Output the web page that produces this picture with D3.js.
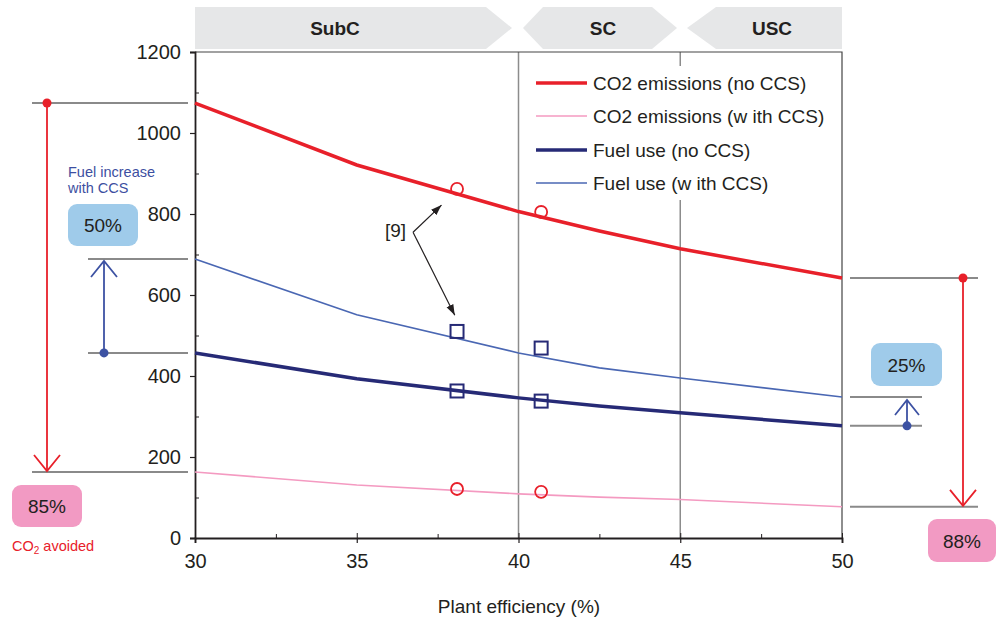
<!DOCTYPE html>
<html>
<head>
<meta charset="utf-8">
<script src="https://cdn.jsdelivr.net/npm/d3@7"></script>
<style>
  body { margin: 0; background: #fff; }
  svg text { font-family: "Liberation Sans", Arial, sans-serif; fill: #231f20; }
</style>
</head>
<body>
<div id="chart"></div>
<script>
// plant efficiency (%) where the curves have their points
const efficiency = [30, 35, 40, 42.5, 45, 50];
const co2NoCcs = [1074, 921, 806, 758, 714, 642];
const co2Ccs = [163, 131, 109, 101, 95, 77];
const fuelNoCcs = [457, 393, 346, 326, 309, 277];
const fuelCcs = [689, 551, 457, 420, 395, 348];

// reference plants [9]
const refEff = [38.1, 40.7];
const refCo2NoCcs = [862, 805];
const refCo2Ccs = [121, 114];
const refFuelCcs = [510, 469];
const refFuelNoCcs = [363, 338];

const xTicks = [30, 35, 40, 45, 50];
const xMinor = [32.5, 37.5, 42.5, 47.5];
const yTicks = [0, 200, 400, 600, 800, 1000, 1200];
const yMinor = [100, 300, 500, 700, 900, 1100];
const gridEff = [40, 45];

const bands = ['SubC', 'SC', 'USC'];
const legendLabels = ['CO2 emissions (no CCS)', 'CO2 emissions (w ith CCS)', 'Fuel use (no CCS)', 'Fuel use (w ith CCS)'];

const width = 996, height = 620;
const margin = { top: 52, right: 154, bottom: 82, left: 195 };

const svg = d3.select('#chart').append('svg')
  .attr('width', width)
  .attr('height', height);

const x = d3.scaleLinear().domain([30, 50]).range([margin.left, width - margin.right]);
const y = d3.scaleLinear().domain([0, 1200]).range([height - margin.bottom, margin.top]);

const red = '#e8202a', pink = '#f49ac1', navy = '#262a76', blue = '#4a67b3', grey = '#8a8a8a';

// header bands
const bandShapes = [
  [[195, 7], [486, 7], [512, 28], [486, 49], [195, 49]],
  [[523, 28], [543, 7], [652, 7], [677, 28], [652, 49], [543, 49]],
  [[687, 28], [716, 7], [842, 7], [842, 49], [716, 49]]
];
svg.selectAll('.band').data(bandShapes).enter().append('polygon')
  .attr('class', 'band')
  .attr('points', d => d.map(p => p.join(',')).join(' '))
  .attr('fill', '#e6e7e8');
svg.selectAll('.band-label').data(bands).enter().append('text')
  .attr('class', 'band-label')
  .attr('x', (d, i) => [335, 603, 772][i])
  .attr('y', 35)
  .attr('text-anchor', 'middle')
  .style('font-size', '19px')
  .style('font-weight', 'bold')
  .text(d => d);

// vertical grid lines
svg.selectAll('.grid').data(gridEff).enter().append('line')
  .attr('class', 'grid')
  .attr('x1', d => x(d)).attr('x2', d => x(d))
  .attr('y1', y(1200)).attr('y2', y(0))
  .attr('stroke', '#8c8c8c')
  .attr('stroke-width', 1.5);

// frame top / right
svg.append('path')
  .attr('d', `M${x(30)},${y(1200)}H${x(50)}V${y(0)}`)
  .attr('fill', 'none')
  .attr('stroke', '#444')
  .attr('stroke-width', 1.2);

// legend background
svg.append('rect')
  .attr('x', 528).attr('y', 66)
  .attr('width', 313).attr('height', 134)
  .attr('fill', '#fff');

// axes
const yAxis = svg.append('g')
  .attr('transform', `translate(${margin.left},0)`)
  .call(d3.axisLeft(y).tickValues(yTicks).tickSize(5).tickPadding(9).tickFormat(d3.format('d')));
const yMinorAxis = svg.append('g')
  .attr('transform', `translate(${margin.left},0)`)
  .call(d3.axisRight(y).tickValues(yMinor).tickSize(4).tickFormat(''));
const xAxis = svg.append('g')
  .attr('transform', `translate(0,${y(0)})`)
  .call(d3.axisBottom(x).tickValues(xTicks).tickSize(5).tickPadding(11));
const xMinorAxis = svg.append('g')
  .attr('transform', `translate(0,${y(0)})`)
  .call(d3.axisTop(x).tickValues(xMinor).tickSize(4).tickFormat(''));
const xUpAxis = svg.append('g')
  .attr('transform', `translate(0,${y(0)})`)
  .call(d3.axisTop(x).tickValues(xTicks).tickSize(5).tickFormat(''));

[yAxis, xAxis].forEach(g => {
  g.select('.domain').attr('stroke', '#231f20').attr('stroke-width', 1.8);
  g.selectAll('.tick line').attr('stroke', '#231f20').attr('stroke-width', 1.2);
  g.selectAll('.tick text').style('font-size', '20px').attr('fill', '#231f20')
    .style('font-family', '"Liberation Sans", Arial, sans-serif');
});
[yMinorAxis, xMinorAxis, xUpAxis].forEach(g => {
  g.select('.domain').remove();
  g.selectAll('.tick line').attr('stroke', '#231f20').attr('stroke-width', 1);
});

svg.append('text')
  .attr('x', 519).attr('y', 613)
  .attr('text-anchor', 'middle')
  .style('font-size', '19px')
  .text('Plant efficiency (%)');

// series lines
const series = [
  { vals: co2NoCcs, color: red, w: 3.5 },
  { vals: co2Ccs, color: pink, w: 1.6 },
  { vals: fuelNoCcs, color: navy, w: 3.5 },
  { vals: fuelCcs, color: blue, w: 1.6 }
];
const line = d3.line().x((d, i) => x(efficiency[i])).y(d => y(d));
svg.selectAll('.series').data(series).enter().append('path')
  .attr('class', 'series')
  .attr('d', d => line(d.vals))
  .attr('fill', 'none')
  .attr('stroke', d => d.color)
  .attr('stroke-width', d => d.w);

// reference markers
[refCo2NoCcs, refCo2Ccs].forEach(vals => {
  svg.selectAll(null).data(vals).enter().append('circle')
    .attr('cx', (d, i) => x(refEff[i]))
    .attr('cy', d => y(d))
    .attr('r', 6)
    .attr('fill', 'none')
    .attr('stroke', red)
    .attr('stroke-width', 1.8);
});
[refFuelCcs, refFuelNoCcs].forEach(vals => {
  svg.selectAll(null).data(vals).enter().append('rect')
    .attr('x', (d, i) => x(refEff[i]) - 6.5)
    .attr('y', d => y(d) - 6.5)
    .attr('width', 13).attr('height', 13)
    .attr('fill', 'none')
    .attr('stroke', navy)
    .attr('stroke-width', 2);
});

// [9] annotation
svg.append('defs').append('marker')
  .attr('id', 'head')
  .attr('viewBox', '0 0 10 10')
  .attr('refX', 10).attr('refY', 5)
  .attr('markerWidth', 9).attr('markerHeight', 9)
  .attr('orient', 'auto')
  .append('path').attr('d', 'M0,1.5L10,5L0,8.5Z').attr('fill', '#231f20');
const noteFrom = [36.74, 755];
const noteTo = [[37.62, 822], [38.03, 550]];
noteTo.forEach(t => {
  svg.append('line')
    .attr('x1', x(noteFrom[0])).attr('y1', y(noteFrom[1]))
    .attr('x2', x(t[0])).attr('y2', y(t[1]))
    .attr('stroke', '#231f20').attr('stroke-width', 1.2)
    .attr('marker-end', 'url(#head)');
});
svg.append('text')
  .attr('x', 385).attr('y', 237)
  .style('font-size', '19px')
  .text('[9]');

// legend
const legend = svg.selectAll('.legend').data(series).enter().append('g')
  .attr('class', 'legend')
  .attr('transform', (d, i) => `translate(536,${[83, 116, 150, 183][i]})`);
legend.append('line')
  .attr('x1', 0).attr('x2', 51)
  .attr('stroke', d => d.color)
  .attr('stroke-width', d => d.w);
legend.append('text')
  .attr('x', 57).attr('y', 7)
  .style('font-size', '19px')
  .text((d, i) => legendLabels[i]);

// side annotations
function hline(x1, x2, yy) {
  svg.append('line').attr('x1', x1).attr('x2', x2).attr('y1', yy).attr('y2', yy)
    .attr('stroke', grey).attr('stroke-width', 2);
}
function arrow(ax, yFrom, yTo, color, armW, armH) {
  svg.append('line').attr('x1', ax).attr('x2', ax).attr('y1', yFrom).attr('y2', yTo)
    .attr('stroke', color).attr('stroke-width', 1.8);
  const dir = yTo > yFrom ? -1 : 1;
  svg.append('path')
    .attr('d', `M${ax - armW},${yTo + dir * armH}L${ax},${yTo}L${ax + armW},${yTo + dir * armH}`)
    .attr('fill', 'none').attr('stroke', color).attr('stroke-width', 1.8);
  svg.append('circle').attr('cx', ax).attr('cy', yFrom).attr('r', 4.5).attr('fill', color);
}
function badge(bx, by, bw, bh, fill, label) {
  svg.append('rect').attr('x', bx).attr('y', by).attr('width', bw).attr('height', bh)
    .attr('rx', 9).attr('fill', fill);
  svg.append('text').attr('x', bx + bw / 2).attr('y', by + bh / 2 + 7)
    .attr('text-anchor', 'middle').style('font-size', '19px').text(label);
}

// left: CO2 avoided at 30%
hline(32, 188, y(co2NoCcs[0]));
hline(32, 188, y(co2Ccs[0]));
arrow(47, y(co2NoCcs[0]), y(co2Ccs[0]) - 1, red, 13, 16);
badge(12, 485, 70, 42, '#f29ac3', '85%');
const avoided = svg.append('text').attr('x', 12).attr('y', 551)
  .style('font-size', '14.5px').style('fill', red);
avoided.append('tspan').text('CO');
avoided.append('tspan').attr('dy', 3).style('font-size', '10px').text('2');
avoided.append('tspan').attr('dy', -3).text(' avoided');

// left: fuel increase at 30%
hline(88, 188, y(fuelCcs[0]));
hline(88, 188, y(fuelNoCcs[0]));
arrow(104, y(fuelNoCcs[0]), y(fuelCcs[0]) + 2, '#3d52a3', 13, 16);
svg.append('text').attr('x', 68).attr('y', 177).style('font-size', '14.5px').style('fill', '#3d4fa1').text('Fuel increase');
svg.append('text').attr('x', 68).attr('y', 193).style('font-size', '14.5px').style('fill', '#3d4fa1').text('with CCS');
badge(68, 204, 70, 42, '#9fcbea', '50%');

// right: at 50%
hline(850, 978, y(co2NoCcs[5]));
hline(850, 978, y(co2Ccs[5]));
arrow(963, y(co2NoCcs[5]), y(co2Ccs[5]) - 1, red, 13, 16);
badge(928, 519, 68, 43, '#f29ac3', '88%');

hline(850, 922, y(fuelCcs[5]));
hline(850, 922, y(fuelNoCcs[5]));
arrow(907, y(fuelNoCcs[5]), y(fuelCcs[5]) + 3, '#3d52a3', 12, 15);
badge(871, 343, 71, 43, '#9fcbea', '25%');
</script>
</body>
</html>
